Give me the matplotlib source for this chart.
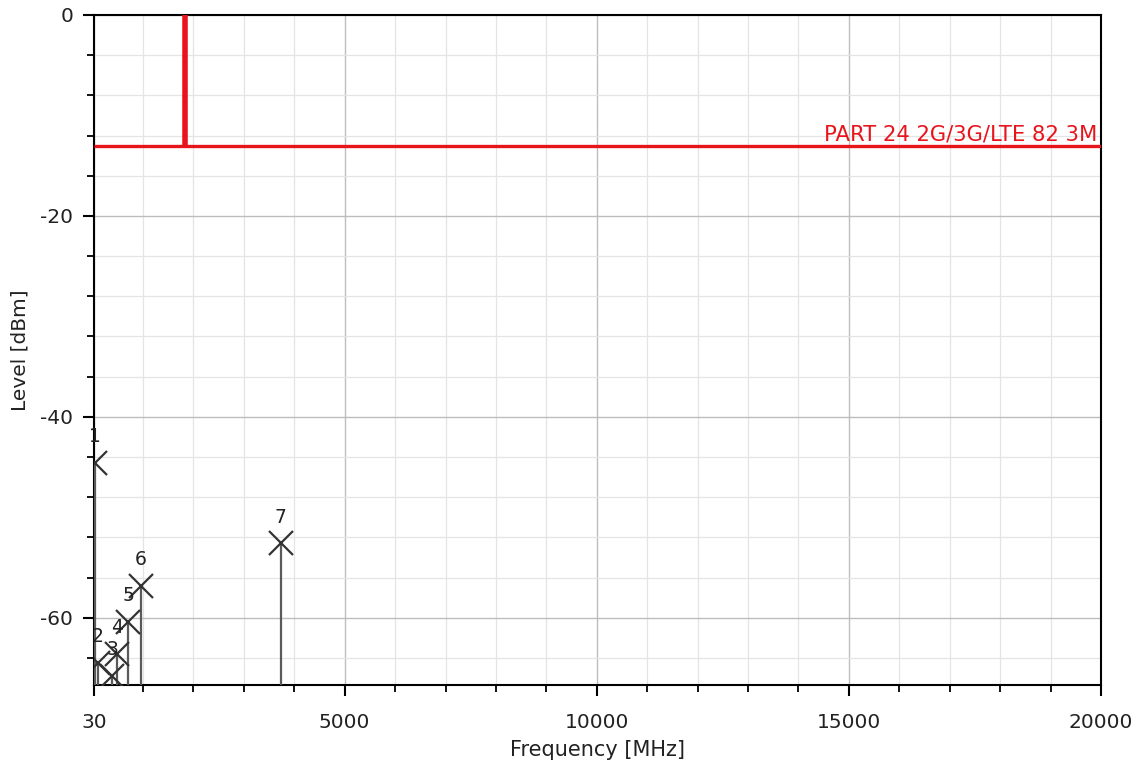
import numpy as np
import matplotlib.pyplot as plt
from matplotlib.ticker import FixedLocator

# peak markers
marker_ids = ["1", "2", "3", "4", "5", "6", "7"]
marker_freq = [45, 110, 390, 490, 705, 960, 3730]       # MHz
marker_level = [-44.6, -64.5, -65.8, -63.6, -60.4, -56.8, -52.6]  # dBm

# limit line (FCC Part 24)
limit_freq = [30, 1840, 1840, 1840, 20000]
limit_level = [-13, -13, 0, -13, -13]
limit_name = "PART 24 2G/3G/LTE 82 3M"

x_ticks = [30, 5000, 10000, 15000, 20000]
y_ticks = [0, -20, -40, -60]

plt.rcParams["font.family"] = ["DejaVu Sans"]
plt.rcParams["axes.unicode_minus"] = False

fig = plt.figure(figsize=(11.41, 7.73), dpi=100)
ax = fig.add_axes([0.0824, 0.1138, 0.8826, 0.8668])

ymin = -66.7
ax.set_xlim(30, 20000)
ax.set_ylim(ymin, 0)

# grid
ax.set_xticks(x_ticks)
ax.set_yticks(y_ticks)
ax.xaxis.set_minor_locator(FixedLocator([f for f in range(1000, 20000, 1000) if f % 5000]))
ax.yaxis.set_minor_locator(FixedLocator([v for v in range(-64, 0, 4) if v % 20]))
ax.grid(True, which="major", color="#bdbdbd", linewidth=1.0)
ax.grid(True, which="minor", color="#e4e4e4", linewidth=0.9)
ax.set_axisbelow(True)

# limit line
ax.plot(limit_freq[:2] + limit_freq[3:], limit_level[:2] + limit_level[3:],
        color="#e8141c", linewidth=2.4, zorder=3, solid_capstyle="butt")
ax.plot(limit_freq[1:3], limit_level[1:3], color="#e8141c", linewidth=4.0,
        zorder=3, solid_capstyle="butt")
ax.text(19930, -12.9, limit_name, color="#e8141c", fontsize=15.2,
        ha="right", va="bottom", zorder=4)

# marker stems and crosses
for mid, f, lv in zip(marker_ids, marker_freq, marker_level):
    ax.vlines(f, ymin, lv, color="#5a5a5a", linewidth=1.6, zorder=4)
    ax.plot(f, lv, marker="x", markersize=17, markeredgewidth=1.6,
            color="#333333", zorder=5)
    ax.annotate(mid, (f, lv), xytext=(0, 19), textcoords="offset points",
                ha="center", va="center", fontsize=13.5, color="#222222",
                zorder=6, annotation_clip=False)

for s in ax.spines.values():
    s.set_color("black")
    s.set_linewidth(1.5)

ax.tick_params(which="major", direction="out", length=8, width=1.5,
               labelsize=14.5, colors="black", pad=7)
ax.tick_params(axis="x", which="major", pad=12)
ax.tick_params(which="minor", direction="out", length=5, width=1.3)
ax.tick_params(axis="both", labelcolor="#222222")

ax.set_xlabel("Frequency [MHz]", fontsize=15, color="#222222", labelpad=6)
ax.set_ylabel("Level [dBm]", fontsize=14.5, color="#222222", labelpad=8)

fig.savefig("out.png", dpi=100)
